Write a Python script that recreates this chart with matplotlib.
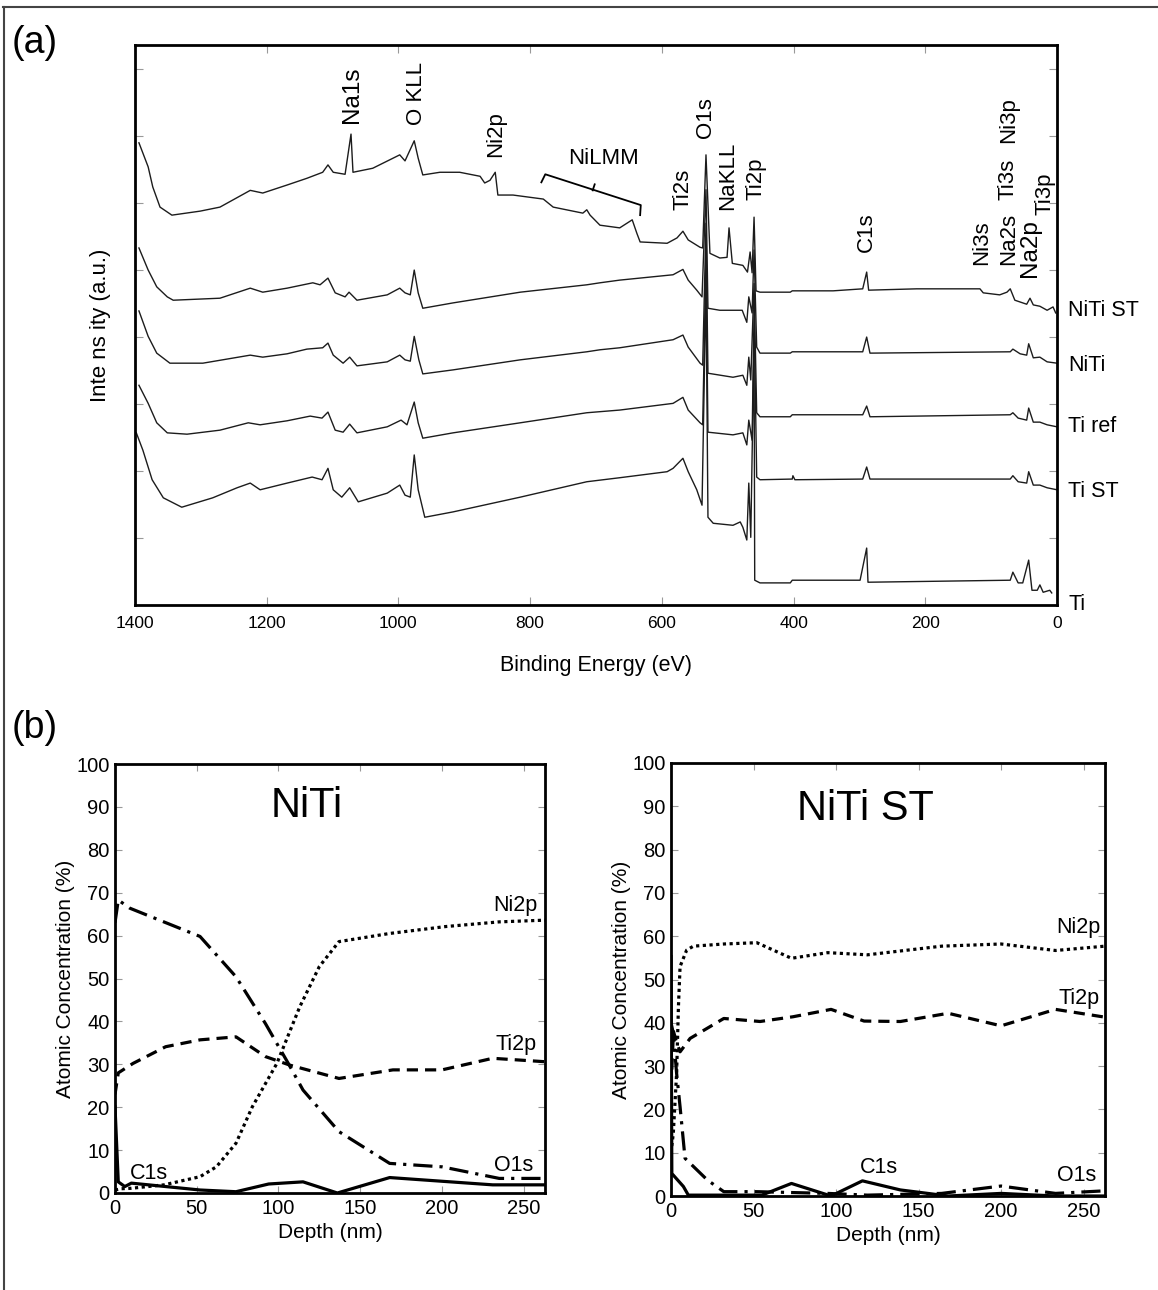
import matplotlib
matplotlib.use("Agg")
import matplotlib.pyplot as plt
from matplotlib.lines import Line2D
from matplotlib.ticker import MultipleLocator
import matplotlib.transforms as mtransforms

plt.rcParams['font.family'] = ['Liberation Sans', 'DejaVu Sans']

# ---------------- (a) XPS survey spectra (binding energy eV, intensity a.u.) ----------------
niti_st_be = [1394, 1380, 1373, 1362, 1344, 1301, 1271, 1225, 1206, 1169, 1139, 1115, 1107, 1099,
              1081, 1072, 1069, 1039, 998, 990, 976, 970, 963, 937, 907, 876, 869, 861, 853, 849,
              826, 780, 765, 720, 714, 709, 694, 664, 645, 638, 633, 592, 577, 568, 560, 542, 538,
              533, 527, 512, 501, 498, 493, 477, 470, 466, 463, 460, 457, 451, 405, 402, 340, 295,
              289, 286, 213, 137, 117, 112, 87, 76, 71, 64, 46, 41, 36, 26, 15, 6, 2]
niti_st_i = [69.0, 65.4, 62.4, 59.4, 58.2, 58.8, 59.4, 61.9, 61.5, 62.7, 63.7, 64.6, 65.7, 64.6,
             64.3, 70.3, 64.6, 65.2, 67.2, 66.3, 69.3, 66.7, 64.2, 64.6, 64.6, 64.0, 63.0, 63.4,
             64.6, 61.2, 61.2, 60.6, 59.4, 58.5, 59.0, 58.2, 56.7, 56.3, 57.5, 55.5, 54.2, 54.0,
             54.8, 55.8, 54.5, 53.4, 53.3, 67.2, 52.5, 51.8, 51.9, 56.3, 51.0, 50.7, 49.7, 52.7,
             49.6, 57.9, 46.9, 46.7, 46.7, 46.9, 46.9, 47.2, 49.7, 47.0, 47.2, 47.2, 47.2, 46.6,
             46.3, 46.7, 47.2, 45.5, 44.9, 45.8, 44.8, 44.6, 44.0, 44.5, 43.6]

niti_be = [1394, 1380, 1367, 1351, 1342, 1271, 1225, 1206, 1169, 1130, 1119, 1107, 1096, 1081,
           1075, 1063, 1017, 998, 990, 982, 976, 970, 963, 917, 815, 714, 694, 664, 583, 568, 560,
           547, 539, 533, 530, 512, 478, 471, 468, 463, 460, 456, 451, 405, 402, 295, 289, 284,
           71, 67, 56, 46, 43, 36, 26, 15, 0]
niti_i = [53.3, 50.0, 47.5, 46.0, 45.5, 45.8, 47.3, 46.7, 47.3, 48.1, 47.8, 48.8, 46.6, 46.0,
          46.7, 45.5, 46.3, 47.3, 46.6, 46.3, 50.0, 46.6, 44.3, 45.1, 46.7, 47.8, 48.1, 48.5, 49.3,
          50.1, 48.5, 47.0, 46.0, 62.0, 44.3, 44.0, 44.0, 42.2, 46.0, 43.6, 53.0, 38.5, 37.6, 37.6,
          37.8, 37.8, 40.0, 37.6, 37.8, 38.2, 37.5, 37.3, 39.0, 36.9, 37.0, 36.3, 36.1]

tiref_be = [1394, 1380, 1367, 1347, 1297, 1225, 1206, 1169, 1139, 1115, 1107, 1099, 1084, 1074,
            1063, 1017, 998, 990, 982, 976, 969, 963, 917, 815, 714, 694, 664, 583, 568, 560, 542,
            538, 533, 530, 492, 477, 471, 468, 465, 460, 456, 451, 405, 402, 295, 289, 284, 71, 67,
            59, 46, 43, 36, 26, 15, 0]
tiref_i = [43.9, 40.1, 37.6, 36.1, 36.1, 37.3, 37.0, 37.5, 38.2, 38.4, 39.1, 37.3, 36.1, 37.0,
           35.7, 36.3, 37.3, 36.6, 36.4, 40.1, 36.6, 34.5, 35.1, 36.6, 37.8, 38.1, 38.4, 39.6, 40.3,
           38.5, 36.1, 35.8, 57.0, 34.6, 34.0, 34.3, 32.8, 37.0, 33.6, 48.0, 28.7, 28.1, 28.1, 28.4,
           28.4, 29.7, 28.1, 28.4, 28.7, 27.9, 27.6, 29.4, 27.3, 27.3, 26.9, 26.6]

tist_be = [1394, 1380, 1367, 1351, 1321, 1271, 1228, 1210, 1169, 1134, 1116, 1107, 1096, 1084,
           1074, 1063, 1017, 996, 987, 976, 970, 963, 917, 815, 714, 664, 583, 568, 560, 542, 538,
           533, 530, 492, 477, 471, 468, 463, 460, 456, 451, 402, 401, 398, 295, 289, 284, 71, 67,
           59, 46, 43, 36, 26, 15, 0]
tist_i = [32.8, 30.1, 27.2, 25.7, 25.5, 26.1, 27.2, 26.9, 27.5, 28.2, 27.9, 28.8, 26.1, 25.8,
          27.0, 25.7, 26.6, 27.6, 26.9, 30.3, 27.2, 24.9, 25.7, 27.2, 28.7, 29.1, 30.1, 31.0, 29.1,
          27.2, 26.9, 52.0, 25.8, 25.4, 25.7, 23.9, 27.6, 24.6, 44.0, 19.1, 18.7, 18.8, 19.3, 18.7,
          18.8, 20.6, 18.8, 18.8, 19.3, 18.4, 18.2, 19.9, 17.9, 17.9, 17.5, 17.2]

ti_be = [1398, 1388, 1374, 1357, 1329, 1282, 1245, 1225, 1210, 1169, 1131, 1116, 1107, 1099, 1086,
         1074, 1061, 1017, 998, 990, 982, 976, 970, 960, 917, 815, 714, 664, 592, 583, 568, 560,
         547, 539, 533, 530, 522, 492, 481, 477, 471, 468, 465, 460, 459, 451, 405, 402, 299, 289,
         287, 71, 67, 59, 52, 43, 38, 30, 26, 21, 11, 8]
ti_i = [25.7, 23.1, 18.7, 16.0, 14.6, 16.0, 17.5, 18.2, 17.2, 18.2, 19.1, 18.7, 20.4, 17.2, 16.1,
        17.5, 15.4, 16.7, 17.9, 16.4, 16.1, 22.4, 17.2, 13.1, 13.9, 16.1, 18.4, 19.0, 19.9, 20.4,
        21.9, 19.9, 17.2, 14.9, 48.0, 13.1, 12.2, 11.9, 12.4, 11.6, 9.7, 18.2, 10.1, 40.0, 3.7,
        3.3, 3.3, 3.7, 3.7, 8.5, 3.4, 3.7, 4.9, 3.3, 3.3, 6.7, 2.2, 2.2, 3.0, 1.9, 2.2, 1.8]

sample_names = ["NiTi ST", "NiTi", "Ti ref", "Ti ST", "Ti"]
sample_label_y = [44.0, 35.7, 26.7, 17.0, 0.1]

peak_labels = ["Na1s", "O KLL", "Ni2p", "Ti2s", "O1s", "NaKLL", "Ti2p", "C1s",
               "Ni3s", "Na2s", "Ti3s", "Ni3p", "Na2p", "Ti3p"]
peak_label_be = [1070, 972, 853, 568, 533, 500, 457, 290, 115, 74, 74, 74, 41, 18]
peak_label_y = [71.9, 71.6, 66.9, 59.0, 69.7, 59.0, 60.4, 52.7, 50.7, 50.7, 60.4, 69.0, 49.0, 58.2]

# ---------------- (b) depth profiles (depth nm, atomic %) ----------------
niti_ni_d = [0, 4, 10, 30, 52, 62, 74, 84, 99, 113, 125, 137, 168, 202, 235, 263]
niti_ni = [0.7, 1.0, 1.1, 1.9, 3.8, 6.1, 11.6, 20.1, 30.2, 43.4, 52.8, 58.6, 60.5, 62.1, 63.2, 63.6]
niti_ti_d = [0, 2, 11, 31, 52, 74, 92, 107, 137, 170, 200, 231, 263]
niti_ti = [23, 28, 30.2, 34.1, 35.7, 36.4, 31.8, 29.8, 26.7, 28.7, 28.7, 31.4, 30.6]
niti_o_d = [0, 2, 9, 52, 74, 92, 106, 115, 137, 168, 200, 235, 263]
niti_o = [63, 68.3, 66.4, 59.8, 50.4, 39.5, 30.2, 24.0, 14.3, 6.9, 6.1, 3.4, 3.4]
niti_c_d = [0, 2, 6, 10, 52, 74, 94, 115, 136, 168, 231, 263]
niti_c = [20.1, 2.6, 1.5, 2.3, 0.7, 0.3, 2.1, 2.6, 0.0, 3.6, 1.9, 1.9]

st_ni_d = [0, 1.4, 3.4, 4.5, 5.5, 9.5, 13.6, 32, 52, 73, 95, 119, 164, 200, 233, 263]
st_ni = [10, 14.5, 28.3, 43.7, 53, 56.8, 57.7, 58.2, 58.5, 54.9, 56.2, 55.7, 57.7, 58.2, 56.7, 57.7]
st_ti_d = [0, 1.5, 3, 5.5, 11.6, 32, 54, 74, 97, 117, 139, 168, 200, 233, 263]
st_ti = [25, 38, 36, 33.3, 36.4, 41.0, 40.3, 41.4, 43.1, 40.4, 40.3, 42.2, 39.3, 43.1, 41.3]
st_o_d = [0, 1.4, 3.4, 5.5, 8.5, 22, 32, 52, 73, 95, 119, 164, 200, 233, 263]
st_o = [40, 37.6, 28.3, 20.6, 8.7, 3.7, 1.0, 1.0, 0.8, 0.6, 0.2, 0.6, 2.3, 0.6, 1.2]
st_c_d = [0, 0.5, 7.5, 10.5, 55, 73, 97, 116, 139, 168, 200, 233, 263]
st_c = [55.3, 5.2, 2.2, 0.2, 0.2, 2.9, 0.0, 3.5, 1.4, 0.0, 0.6, 0.0, 0.0]

W, H = 1158, 1290
fig = plt.figure(figsize=(W / 100, H / 100), dpi=100)

# frame lines around the figure (top and left)
fig.add_artist(Line2D([3 / W, 1], [1 - 7 / H, 1 - 7 / H], color="#444444", lw=1.5))
fig.add_artist(Line2D([3.5 / W, 3.5 / W], [0, 1 - 7 / H], color="#444444", lw=1.5))

# ---------- panel (a) ----------
ax = fig.add_axes([135 / W, 1 - 605 / H, 922 / W, 560 / H])
spectra = [(niti_st_be, niti_st_i), (niti_be, niti_i), (tiref_be, tiref_i),
           (tist_be, tist_i), (ti_be, ti_i)]
for be, inten in spectra:
    ax.plot(be, inten, color="#1c1c1c", lw=1.0)

ax.set_xlim(1400, 0)
ax.set_ylim(0, 83.6)
ax.xaxis.set_major_locator(MultipleLocator(200))
ax.yaxis.set_major_locator(MultipleLocator(10))
ax.set_yticklabels([])
ax.tick_params(direction="in", length=6, width=0.8, color="#999999",
               top=True, right=True, labelsize=12.5, pad=8)
for s in ax.spines.values():
    s.set_linewidth(2)
ax.set_xlabel("Binding Energy (eV)", fontsize=15.5, labelpad=17)
ax.set_ylabel("Inte ns ity (a.u.)", fontsize=16, labelpad=9)

trans = mtransforms.blended_transform_factory(ax.transAxes, ax.transData)
for name, yy in zip(sample_names, sample_label_y):
    ax.text(1.012, yy, name, transform=trans, fontsize=15.5, ha="left", va="center",
            clip_on=False)

for lab, be, yy in zip(peak_labels, peak_label_be, peak_label_y):
    fs = {"Na2p": 17.5, "Na1s": 17.5}.get(lab, 16)
    ax.text(be, yy, lab, rotation=90, ha="center", va="bottom", fontsize=fs, clip_on=False)

# NiLMM bracket
ax.plot([783, 777, 632, 633], [63.1, 64.3, 59.7, 58.2], color="black", lw=1.3)
ax.plot([705, 702], [61.9, 62.8], color="black", lw=1.3)
ax.text(688, 66.7, "NiLMM", ha="center", va="center", fontsize=16)

fig.text(35 / W, 1 - 43 / H, "(a)", fontsize=27, ha="center", va="center")
fig.text(35 / W, 1 - 728 / H, "(b)", fontsize=27, ha="center", va="center")

# ---------- panel (b) ----------
dot = (0, (1, 1.1))
dash = (0, (3.5, 2.2))
dashdot = (0, (6, 2.2, 1, 2.2))


def depth_panel(rect, title, title_xy, curves, labels):
    a = fig.add_axes(rect)
    for d, v, ls in curves:
        a.plot(d, v, color="black", lw=2.3, linestyle=ls, dash_capstyle="butt")
    a.set_xlim(0, 263)
    a.set_ylim(0, 100)
    a.xaxis.set_major_locator(MultipleLocator(50))
    a.yaxis.set_major_locator(MultipleLocator(10))
    a.tick_params(direction="in", length=5, width=0.8, color="#999999",
                  top=True, right=True, labelsize=14.5, pad=4)
    for s in a.spines.values():
        s.set_linewidth(2)
    a.set_xlabel("Depth (nm)", fontsize=15, labelpad=4)
    a.set_ylabel("Atomic Concentration (%)", fontsize=15, labelpad=1)
    a.text(title_xy[0], title_xy[1], title, fontsize=30, ha="center", va="center")
    for t, x, y in labels:
        a.text(x, y, t, fontsize=15.5, ha="center", va="center")
    return a


depth_panel([115 / W, 1 - 1193 / H, 430 / W, 429 / H], "NiTi", (117, 90.2),
            [(niti_ni_d, niti_ni, dot), (niti_ti_d, niti_ti, dash),
             (niti_o_d, niti_o, dashdot), (niti_c_d, niti_c, "-")],
            [("Ni2p", 245, 66.9), ("Ti2p", 245, 34.7), ("O1s", 244, 6.5), ("C1s", 21, 4.6)])

depth_panel([671 / W, 1 - 1196 / H, 434 / W, 433 / H], "NiTi ST", (118, 89.4),
            [(st_ni_d, st_ni, dot), (st_ti_d, st_ti, dash),
             (st_o_d, st_o, dashdot), (st_c_d, st_c, "-")],
            [("Ni2p", 247, 62.1), ("Ti2p", 247, 45.5), ("O1s", 246, 4.8), ("C1s", 126, 6.5)])

fig.savefig("out.png", dpi=100)
